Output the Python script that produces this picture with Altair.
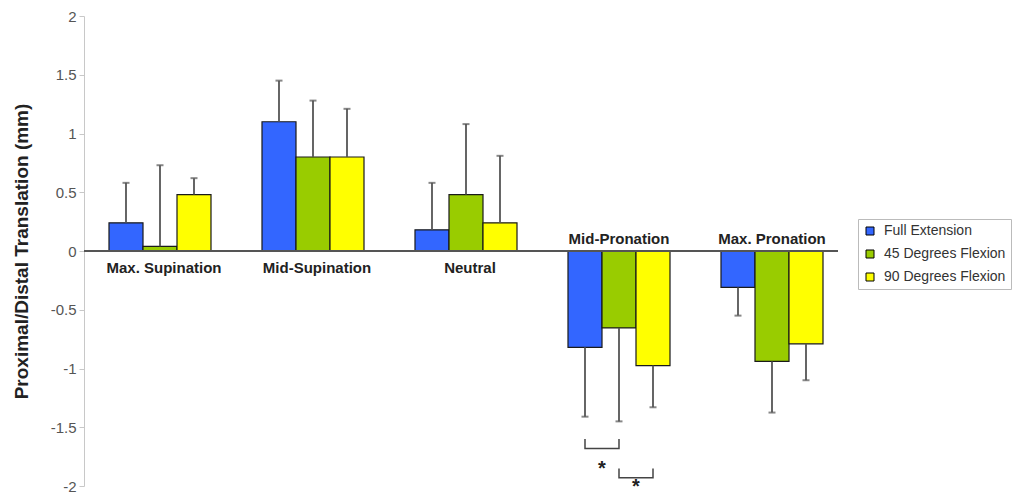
import altair as alt
import pandas as pd

groups = ["Max. Supination", "Mid-Supination", "Neutral", "Mid-Pronation", "Max. Pronation"]
series = ["Full Extension", "45 Degrees Flexion", "90 Degrees Flexion"]
colors = ["#3366FF", "#99CC00", "#FFFF00"]

full_ext = [0.24, 1.10, 0.18, -0.82, -0.31]
full_ext_sd = [0.34, 0.35, 0.40, 0.59, 0.24]
flex45 = [0.04, 0.80, 0.48, -0.655, -0.94]
flex45_sd = [0.69, 0.48, 0.60, 0.795, 0.435]
flex90 = [0.48, 0.80, 0.24, -0.975, -0.79]
flex90_sd = [0.14, 0.41, 0.57, 0.355, 0.31]

# significance brackets (Mid-Pronation)
bracket_group = "Mid-Pronation"
bracket_pairs = [("Full Extension", "45 Degrees Flexion"), ("45 Degrees Flexion", "90 Degrees Flexion")]
bracket_tip = [-1.60, -1.85]
bracket_base = [-1.68, -1.93]
star_y = [-1.91, -2.06]

rows = []
for s, vals, sds in zip(series, [full_ext, flex45, flex90], [full_ext_sd, flex45_sd, flex90_sd]):
    for g, v, sd in zip(groups, vals, sds):
        rows.append({"group": g, "series": s, "value": v,
                     "err": v + (sd if v >= 0 else -sd)})
df = pd.DataFrame(rows)

brows = []
for i, ((a, b), tip, base) in enumerate(zip(bracket_pairs, bracket_tip, bracket_base)):
    pts = [(a, tip), (a, base), (b, base), (b, tip)]
    for k, (s, y) in enumerate(pts):
        brows.append({"group": bracket_group, "series": s, "y": y, "id": i, "ord": k})
bdf = pd.DataFrame(brows)

sdf = pd.DataFrame({"group": [bracket_group] * 2,
                    "series": [p[1] for p in bracket_pairs],
                    "y": star_y, "t": ["*", "*"]})

ldf = pd.DataFrame({"group": groups,
                    "sign": ["pos" if v >= 0 else "neg" for v in full_ext]})

FONT = "Liberation Sans"

xenc = alt.X("group:N", sort=groups, axis=None,
             scale=alt.Scale(paddingInner=0.3333, paddingOuter=0.1307, align=0.625))
xoff = alt.XOffset("series:N", sort=series, scale=alt.Scale(paddingInner=0, paddingOuter=0))
yscale = alt.Scale(domain=[-2, 2], nice=False)

base = alt.Chart(df)

bars = base.mark_bar(stroke="#1a1a1a", strokeWidth=1.2).encode(
    x=xenc, xOffset=xoff,
    y=alt.Y("value:Q", scale=yscale,
            axis=alt.Axis(values=[-2, -1.5, -1, -0.5, 0, 0.5, 1, 1.5, 2],
                          labelExpr="datum.value + ''", grid=False,
                          domainColor="#c8c8c8", tickColor="#c8c8c8", tickSize=5,
                          labelPadding=3, labelColor="#555", labelFontSize=15,
                          labelFont=FONT,
                          title="Proximal/Distal Translation (mm)",
                          titleFont=FONT, titleFontSize=19, titleFontWeight="bold",
                          titleColor="#222", titlePadding=19)),
    color=alt.Color("series:N", sort=series,
                    scale=alt.Scale(domain=series, range=colors),
                    legend=alt.Legend(title=None, orient="none", legendX=774, legendY=203,
                                      symbolType="square", symbolSize=64,
                                      symbolStrokeColor="#000", symbolStrokeWidth=1,
                                      labelFont=FONT, labelFontSize=14, labelColor="#333",
                                      labelOffset=7, rowPadding=9, padding=5,
                                      strokeColor="#bbb", fillColor="white")),
)

err_rule = base.mark_rule(color="#555", strokeWidth=1.8).encode(
    x=xenc, xOffset=xoff, y="value:Q", y2="err:Q")
err_cap = base.mark_tick(color="#555", size=7, thickness=2).encode(
    x=xenc, xOffset=xoff, y="err:Q")

zero = alt.Chart(pd.DataFrame({"z": [0]})).mark_rule(color="#555", strokeWidth=2).encode(
    y="z:Q")

lab_pos = alt.Chart(ldf).transform_filter("datum.sign == 'pos'").mark_text(
    font=FONT, fontSize=15, fontWeight="bold", color="#222", baseline="top", dy=10, dx=4
).encode(x=xenc, y=alt.datum(0), text="group:N")
lab_neg = alt.Chart(ldf).transform_filter("datum.sign == 'neg'").mark_text(
    font=FONT, fontSize=15, fontWeight="bold", color="#222", baseline="alphabetic", dy=-7
).encode(x=xenc, y=alt.datum(0), text="group:N")

brackets = alt.Chart(bdf).mark_line(color="#444", strokeWidth=1.5).encode(
    x=xenc, xOffset=xoff, y="y:Q", detail="id:N", order="ord:Q")

stars = alt.Chart(sdf).mark_text(
    font=FONT, fontSize=20, fontWeight="bold", color="#222", baseline="alphabetic", dx=-17
).encode(x=xenc, xOffset=xoff, y="y:Q", text="t:N")

chart = alt.layer(bars, err_rule, err_cap, zero, lab_pos, lab_neg, brackets, stars).properties(
    width=754, height=470,
    autosize=alt.AutoSizeParams(type="none"),
    padding={"left": 76, "top": 8, "right": 176, "bottom": 8},
    background="white",
).configure_view(stroke=None)

chart.save("out.html", embed_options={"renderer": "svg", "actions": False})
